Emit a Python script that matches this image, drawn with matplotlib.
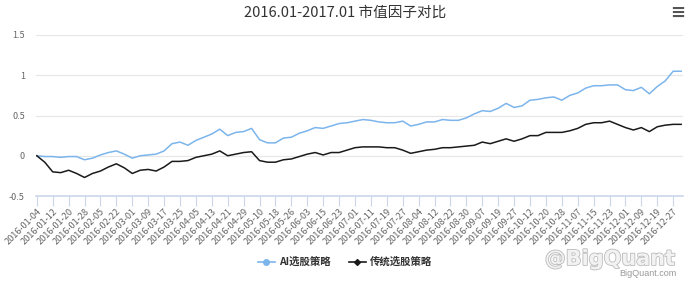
import matplotlib
matplotlib.use("Agg")
import matplotlib.pyplot as plt
import matplotlib.patheffects as pe
import pandas as pd
from matplotlib.lines import Line2D

plt.rcParams['font.family'] = ['Noto Sans CJK SC', 'DejaVu Sans']

TITLE = "2016.01-2017.01 市值因子对比"
SERIES_NAMES = ["AI选股策略", "传统选股策略"]

# 2016 A-share holidays falling on weekdays
HOLIDAYS = ["2016-01-01", "2016-02-08", "2016-02-09", "2016-02-10", "2016-02-11",
            "2016-02-12", "2016-04-04", "2016-05-02", "2016-06-09", "2016-06-10",
            "2016-09-15", "2016-09-16", "2016-10-03", "2016-10-04", "2016-10-05",
            "2016-10-06", "2016-10-07"]

# values read every 3rd trading day (2016-01-04 ... 2016-12-30)
ai_values = [0.00, -0.01, -0.01, -0.02, -0.01, -0.01, -0.05, -0.03, 0.01, 0.04,
             0.06, 0.02, -0.03, 0.00, 0.01, 0.02, 0.06, 0.15, 0.17, 0.13,
             0.19, 0.23, 0.27, 0.33, 0.25, 0.29, 0.30, 0.34, 0.20, 0.16,
             0.16, 0.22, 0.23, 0.28, 0.31, 0.35, 0.34, 0.37, 0.40, 0.41,
             0.43, 0.45, 0.44, 0.42, 0.41, 0.41, 0.43, 0.37, 0.39, 0.42,
             0.42, 0.45, 0.44, 0.44, 0.47, 0.52, 0.56, 0.55, 0.59, 0.65,
             0.60, 0.62, 0.69, 0.70, 0.72, 0.73, 0.69, 0.75, 0.78, 0.84,
             0.87, 0.87, 0.88, 0.88, 0.82, 0.81, 0.85, 0.77, 0.86, 0.93,
             1.05, 1.05]
trad_values = [0.00, -0.08, -0.20, -0.21, -0.18, -0.22, -0.27, -0.22, -0.19, -0.14,
               -0.10, -0.15, -0.22, -0.18, -0.17, -0.19, -0.14, -0.07, -0.07, -0.06,
               -0.02, 0.00, 0.02, 0.06, 0.00, 0.02, 0.04, 0.05, -0.06, -0.08,
               -0.08, -0.05, -0.04, -0.01, 0.02, 0.04, 0.01, 0.04, 0.04, 0.07,
               0.10, 0.11, 0.11, 0.11, 0.10, 0.10, 0.07, 0.03, 0.05, 0.07,
               0.08, 0.10, 0.10, 0.11, 0.12, 0.13, 0.17, 0.15, 0.18, 0.21,
               0.18, 0.21, 0.25, 0.25, 0.29, 0.29, 0.29, 0.31, 0.34, 0.39,
               0.41, 0.41, 0.43, 0.39, 0.35, 0.32, 0.35, 0.30, 0.36, 0.38,
               0.39, 0.39]

y_ticks = [-0.5, 0, 0.5, 1, 1.5]
y_labels = ["-0.5", "0", "0.5", "1", "1.5"]

days = pd.bdate_range("2016-01-01", "2016-12-31")
days = days[~days.isin(pd.to_datetime(HOLIDAYS))]
pos = {d: i for i, d in enumerate(days)}
sample_days = days[::3]
xs = [pos[d] for d in sample_days]
tick_days = days[::6]

W, H = 690, 281
fig = plt.figure(figsize=(W / 100, H / 100), dpi=100)
ax = fig.add_axes([36 / W, (H - 196) / H, (683 - 36) / W, (196 - 35) / H])

ax.plot(xs, ai_values, color="#7cb5ec", lw=1.1, zorder=3)
ax.plot(xs, trad_values, color="#1a1a1a", lw=1.1, zorder=3)

ax.set_xlim(-0.3, len(days) - 0.3)
ax.set_ylim(-0.5, 1.5)
ax.set_yticks(y_ticks)
ax.set_yticklabels(y_labels)
for v in y_ticks[1:]:
    ax.axhline(v, color="#e6e6e6", lw=0.8, zorder=1)
ax.axhline(-0.5, color="#ccd6eb", lw=1.2, zorder=2, clip_on=False)

ax.set_xticks([pos[d] for d in tick_days])
ax.set_xticklabels([d.strftime("%Y-%m-%d") for d in tick_days], rotation=45,
                   ha="right", va="top", rotation_mode="anchor")
ax.tick_params(axis="x", length=7, width=0.8, color="#ccd6eb", labelsize=6.6,
               labelcolor="#666666", pad=1)
ax.tick_params(axis="y", length=0, labelsize=6.5, labelcolor="#666666", pad=8)
for s in ax.spines.values():
    s.set_visible(False)

fig.text(0.5, 1 - 13 / H, TITLE, ha="center", va="center", fontsize=10.5,
         color="#333333")

# menu icon
fig.text(678 / W, 1 - 13 / H, "≡", ha="center", va="center", fontsize=13,
         color="#555555", family=["DejaVu Sans"], fontweight="bold")

handles = [Line2D([0], [0], color="#7cb5ec", lw=1.2, marker="o", ms=4),
           Line2D([0], [0], color="#1a1a1a", lw=1.2, marker="D", ms=3)]
fig.legend(handles, SERIES_NAMES, loc="center", bbox_to_anchor=(0.5, 1 - 262 / H),
           ncol=2, frameon=False, handlelength=1.6, columnspacing=1.8,
           handletextpad=0.4, prop={"size": 7.5, "weight": "bold"},
           labelcolor="#333333")

# watermark
fig.text(675 / W, 1 - 259 / H, "@BigQuant", ha="right", va="center",
         fontsize=15, color="#f2f2f2", fontweight="bold", family=["DejaVu Sans"],
         path_effects=[pe.withStroke(linewidth=1.2, foreground="#bbbbbb")])
fig.text(676 / W, 1 - 274 / H, "BigQuant.com", ha="right", va="center",
         fontsize=6.5, color="#999999", family=["Liberation Sans"])

fig.savefig("out.png", dpi=100, facecolor="white")
